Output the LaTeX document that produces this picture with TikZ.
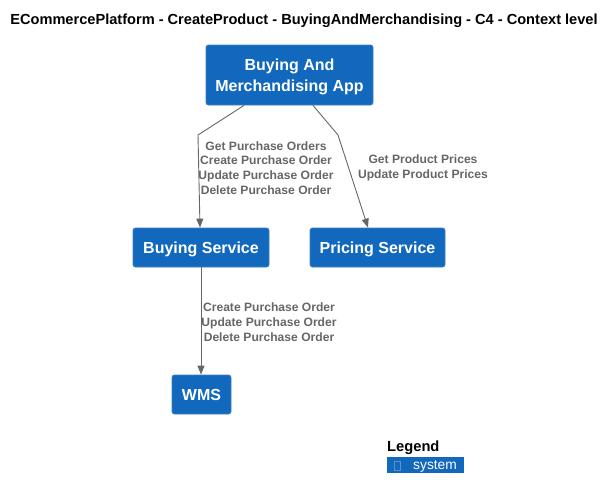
\documentclass[tikz,border=0pt]{standalone}
\usepackage{fontspec}
\setmainfont{Liberation Sans}
\usetikzlibrary{arrows.meta}
\definecolor{sysfill}{HTML}{1168BD}
\definecolor{sysline}{HTML}{3C7FC0}
\definecolor{relgrey}{HTML}{666666}
\tikzset{
  sysbox/.style={draw=sysline, fill=sysfill, rounded corners=2.5pt, line width=0.8pt,
    text=white, font=\bfseries\fontsize{16}{21}\selectfont, align=center, inner sep=0pt, text depth=0pt},
  rel/.style={draw=relgrey, line width=0.9pt, -{Triangle[length=9pt,width=7pt]}},
  rellabel/.style={text=relgrey, font=\bfseries\fontsize{12.1}{14.8}\selectfont, align=center, inner sep=0pt},
}
\begin{document}
\begin{tikzpicture}[x=1pt,y=-1pt]
\useasboundingbox (0,0) rectangle (615,499);
\node[font=\bfseries\fontsize{14.6}{17}\selectfont, inner sep=0pt] (title) at (304,21) {ECommercePlatform - CreateProduct - BuyingAndMerchandising - C4 - Context level};
\node[sysbox, minimum width=167pt, minimum height=60pt, text depth=-4pt] (app) at (289.5,75) {Buying And\\Merchandising App};
\node[sysbox, minimum width=136pt, minimum height=39pt] (buy) at (201,247.5) {Buying Service};
\node[sysbox, minimum width=135pt, minimum height=39pt] (price) at (377.5,247.5) {Pricing Service};
\node[sysbox, minimum width=59pt, minimum height=39pt] (wms) at (201.5,394.5) {WMS};
\coordinate (s1) at (244,0);
\coordinate (b1) at (198,135);
\coordinate (e1) at (200,0);
\coordinate (s2) at (313,0);
\coordinate (b2) at (338,135);
\coordinate (e2) at (368,0);
\draw[rel] (app.south -| s1) -- (b1) -- (buy.north -| e1);
\draw[rel] (app.south -| s2) -- (b2) -- (price.north -| e2);
\draw[rel] (buy.south) -- (wms.north -| buy.south);
\node[rellabel] (l1) at (266,168) {Get Purchase Orders\\Create Purchase Order\\Update Purchase Order\\Delete Purchase Order};
\node[rellabel] (l2) at (423,168) {Get Product Prices\\Update Product Prices};
\node[rellabel] (l3) at (269,322) {Create Purchase Order\\Update Purchase Order\\Delete Purchase Order};
\node[font=\bfseries\fontsize{14.7}{17}\selectfont, inner sep=0pt, anchor=west] (leg) at (387,448) {Legend};
\node[fill=sysfill, minimum width=77pt, minimum height=16pt, inner sep=0pt, anchor=north west] (legbox) at (387,457) {};
\draw[sysline!85!white, line width=0.5pt] ([shift={(7,4)}]legbox.north west) rectangle ++(6,9);
\node[text=white, font=\fontsize{13.8}{16}\selectfont, inner sep=0pt, anchor=west] (legtxt) at ([xshift=26pt,yshift=-1pt]legbox.west) {system};
\end{tikzpicture}
\end{document}
